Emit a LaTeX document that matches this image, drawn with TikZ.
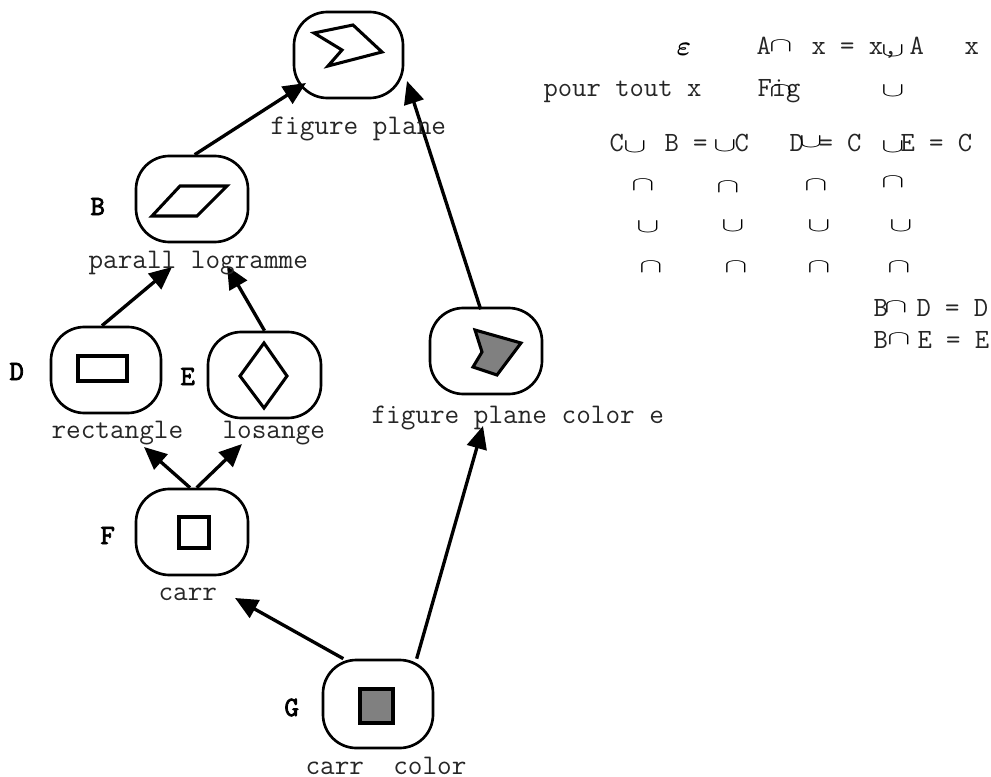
\documentclass[tikz,border=0pt]{standalone}
\usepackage{fontspec}
\newfontfamily\letterfont{Latin Modern Mono}[FakeBold=3]
\usetikzlibrary{arrows.meta}
\tikzset{every picture/.style={line width=0.75pt}}
\newcommand{\flatcup}{\scalebox{1.25}[.72]{$\cup$}}
\newcommand{\flatcap}{\scalebox{1.25}[.72]{$\cap$}}
\tikzset{
  box/.style={draw,line width=2pt,rounded corners=25pt,inner sep=0pt},
  shapeline/.style={line width=2.3pt,line join=miter},
  link/.style={line width=2.5pt,-{Triangle[length=17pt,width=15pt]}},
  txt/.style={anchor=base west,inner sep=0pt,font=\fontsize{20.9}{24}\selectfont\ttfamily,text=black!85},
  capt/.style={txt,font=\fontsize{21.3}{24}\selectfont\ttfamily},
  letter/.style={anchor=base west,inner sep=0pt,font=\fontsize{20.9}{24}\selectfont\letterfont},
  sym/.style={anchor=base,inner sep=0pt,font=\fontsize{21}{24}\selectfont}
}

\begin{document}
\begin{tikzpicture}[x=0.75pt,y=0.75pt,yscale=-1,xscale=1]
  \useasboundingbox (0,0) rectangle (991,777);
  %Shape: Boxes
  \node (boxA) [box,minimum width=81.75pt,minimum height=64.5pt] at (348.5,55) {};
  \node (boxB) [box,minimum width=84pt,minimum height=64.5pt] at (192,199) {};
  \node (boxD) [box,minimum width=82.5pt,minimum height=64.5pt] at (106,370) {};
  \node (boxE) [box,minimum width=84.75pt,minimum height=64.5pt] at (264.5,375) {};
  \node (boxF) [box,minimum width=84pt,minimum height=64.5pt] at (192,532) {};
  \node (boxC) [box,minimum width=84pt,minimum height=64.5pt] at (486,351) {};
  \node (boxG) [box,minimum width=82.5pt,minimum height=66pt] at (378,704) {};
  %Shape: Polygons
  \draw [shapeline] (314,33) -- (353,25) -- (382,52) -- (328,66) -- (342,50) -- cycle ;
  \draw [shapeline] (152,216) -- (180,186) -- (227,186) -- (197,216) -- cycle ;
  \draw [shapeline] (78,356) rectangle (127,381) ;
  \draw [shapeline] (240,376) -- (264,343) -- (287,376) -- (264,408) -- cycle ;
  \draw [shapeline] (179,517) rectangle (209,548) ;
  \draw [shapeline,fill={rgb,255:red,128;green,128;blue,128}] (475,330) -- (521,343) -- (497,375) -- (473,367) -- (482,352) -- cycle ;
  \draw [shapeline,fill={rgb,255:red,128;green,128;blue,128}] (360,689) rectangle (393,723) ;
  %Arrow ends
  \coordinate (tipA) at (306,83);
  \coordinate (tipAright) at (407,81);
  \coordinate (tipBleft) at (172,267);
  \coordinate (tipBright) at (227,266);
  \coordinate (tipD) at (144,447);
  \coordinate (tipE) at (242,444);
  \coordinate (tipF) at (235,598);
  \coordinate (tipC) at (483,426);
  %Lines
  \draw [link] ([xshift=2pt]boxB.north) -- (tipA);
  \draw [link] ([xshift=-4pt,yshift=2pt]boxC.north) -- (tipAright);
  \draw [link] ([xshift=-3pt]boxD.north) -- (tipBleft);
  \draw [link] (boxE.north) -- (tipBright);
  \draw [link] ([xshift=-1.5pt]boxF.north) -- (tipD);
  \draw [link] ([xshift=3.5pt]boxF.north) -- (tipE);
  \draw [link] ([xshift=-26pt]boxG.north) -- (tipF);
  \draw [link] ([xshift=29pt]boxG.north) -- (tipC);
  % Text Node
  \draw (270,135) node (captA) [capt] {figure plane};
  \draw (88,268) node (captB) [capt] {parall logramme};
  \draw (51,438) node (captD) [capt] {rectangle};
  \draw (222,438) node (captE) [capt] {losange};
  \draw (158,600) node (captF) [capt] {carr};
  \draw (371,423) node (captC) [capt] {figure plane color e};
  \draw (305,774) node (captG) [capt] {carr\ \ color};
  % Text Node
  \draw (90,215) node (letB) [letter] {B};
  \draw (9,380) node (letD) [letter] {D};
  \draw (180,385) node (letE) [letter] {E};
  \draw (100,544) node (letF) [letter] {F};
  \draw (284,716) node (letG) [letter] {G};
  % Text Node
  \draw (684,56) node (epsi) [sym] {\mbox{\boldmath$\varepsilon$}};
  \draw (756,55) node (rowAa) [txt] {A};
  \draw (781,52) node (capAa) [sym] {\flatcap};
  \draw (811,55) node (rowAb) [txt] {x = x,};
  \draw (893,57) node (cupAa) [sym] {\flatcup};
  \draw (909,55) node (rowAc) [txt] {A};
  \draw (964,55) node (rowAd) [txt] {x};
  \draw (543,97) node (rowBa) [txt] {pour tout x};
  \draw (757,97) node (rowBb) [txt] {Fig};
  \draw (781,97) node (capBa) [sym] {\flatcap};
  \draw (893,97) node (cupBa) [sym] {\flatcup};
  % Text Node
  \draw (609,152) node (rowCa) [txt] {C};
  \draw (635,153) node (cupCa) [sym] {\flatcup};
  \draw (664,152) node (rowCb) [txt] {B =};
  \draw (725,152) node (cupCb) [sym] {\flatcup};
  \draw (734,152) node (rowCc) [txt] {C};
  \draw (789,152) node (rowCd) [txt] {D};
  \draw (811,148) node (cupCc) [sym] {\flatcup};
  \draw (818,152) node (rowCe) [txt] {= C};
  \draw (893,153) node (cupCd) [sym] {\flatcup};
  \draw (900,152) node (rowCf) [txt] {E = C};
  % Text Node
  \draw (643,191) node (capDa) [sym] {\flatcap};
  \draw (728,193) node (capDb) [sym] {\flatcap};
  \draw (816,191) node (capDc) [sym] {\flatcap};
  \draw (893,188) node (capDd) [sym] {\flatcap};
  \draw (648,233) node (cupEa) [sym] {\flatcup};
  \draw (733,231) node (cupEb) [sym] {\flatcup};
  \draw (819,231) node (cupEc) [sym] {\flatcup};
  \draw (901,231) node (cupEd) [sym] {\flatcup};
  \draw (651,272) node (capFa) [sym] {\flatcap};
  \draw (736,272) node (capFb) [sym] {\flatcap};
  \draw (819,272) node (capFc) [sym] {\flatcap};
  \draw (899,272) node (capFd) [sym] {\flatcap};
  % Text Node
  \draw (873,316) node (rowGa) [txt] {B};
  \draw (896,312) node (capGa) [sym] {\flatcap};
  \draw (916,316) node (rowGb) [txt] {D = D};
  \draw (873,348) node (rowHa) [txt] {B};
  \draw (899,344) node (capHa) [sym] {\flatcap};
  \draw (917,348) node (rowHb) [txt] {E = E};
\end{tikzpicture}
\end{document}
